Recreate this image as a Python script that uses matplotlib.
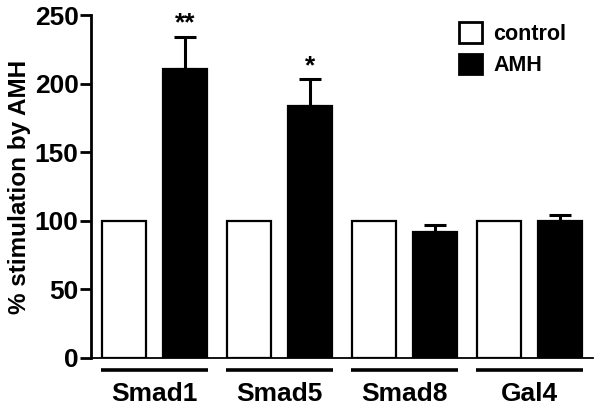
import matplotlib
matplotlib.use('Agg')
import matplotlib.pyplot as plt
from matplotlib.patches import Patch
import numpy as np

groups = ['Smad1', 'Smad5', 'Smad8', 'Gal4']
control = [100, 100, 100, 100]
amh = [211, 184, 92, 100]
amh_err = [23, 19, 5, 4]
stars = ['**', '*', '', '']

plt.rcParams['font.family'] = ['Liberation Sans', 'DejaVu Sans']
plt.rcParams['font.weight'] = 'bold'

fig = plt.figure(figsize=(6.07, 4.11), dpi=100)
ax = fig.add_axes([0.150, 0.129, 0.827, 0.8345])

x = np.arange(len(groups))
w = 0.35
off = 0.244
ax.bar(x - off, control, w, color='white', edgecolor='black', linewidth=1.6, zorder=2)
ax.bar(x + off, amh, w, color='black', edgecolor='black', linewidth=1.6, zorder=2)
ax.errorbar(x + off, amh, yerr=[np.zeros(4), amh_err], fmt='none', ecolor='black',
            elinewidth=2.2, capsize=8, capthick=2.2, zorder=3)

for xi, v, e, s in zip(x, amh, amh_err, stars):
    if s:
        ax.text(xi + off, v + e + 1, s, ha='center', va='bottom', fontsize=19, fontweight='bold')

# underline each group
for xi in x:
    ax.plot([xi - 0.43, xi + 0.43], [-8.7, -8.7], color='black', lw=2.6,
            clip_on=False, solid_capstyle='butt')

ax.set_xlim(-0.508, 3.508)
ax.set_ylim(0, 250)
ax.set_yticks([0, 50, 100, 150, 200, 250])
ax.set_xticks(x)
ax.set_xticklabels(groups, fontsize=19, fontweight='bold')
ax.tick_params(axis='x', length=0, pad=17)
ax.tick_params(axis='y', length=8, width=2, labelsize=19, pad=1)
for lab in ax.get_yticklabels():
    lab.set_fontweight('bold')

ax.spines['top'].set_visible(False)
ax.spines['right'].set_visible(False)
ax.spines['left'].set_linewidth(2)
ax.spines['bottom'].set_linewidth(1.3)

ax.set_ylabel('% stimulation by AMH', fontsize=17.5, fontweight='bold', labelpad=3)

handles = [Patch(facecolor='white', edgecolor='black', linewidth=2),
           Patch(facecolor='black', edgecolor='black', linewidth=2)]
ax.legend(handles, ['control', 'AMH'], loc='upper left', bbox_to_anchor=(0.694, 1.035),
          frameon=False, handlelength=1.1, handleheight=1.1,
          handletextpad=0.5, labelspacing=0.4, prop={'weight': 'bold', 'size': 15.5})

plt.savefig('out.png', dpi=100)
